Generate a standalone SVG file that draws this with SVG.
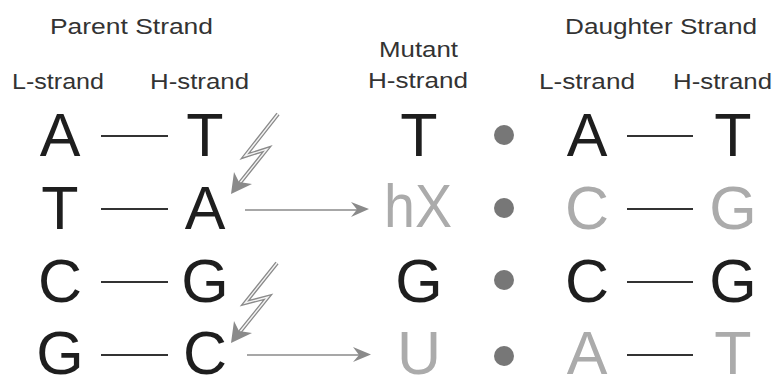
<svg xmlns="http://www.w3.org/2000/svg" width="777" height="380" viewBox="0 0 777 380">
<style>
.hdr{font-family:"Liberation Sans",Arial,sans-serif;font-size:22px;fill:#333}
.big{font-family:"Liberation Sans",Arial,sans-serif;font-size:61px;text-anchor:middle}
.d{fill:#1e1e1e}
.l{fill:#ababab}
.bond{stroke:#333;stroke-width:2}
.dot{fill:#777}
.arr{stroke:#8a8a8a;stroke-width:1.6;fill:none}
.ah{fill:#8a8a8a}
.bo{stroke:#8a8a8a;stroke-width:4;fill:none;stroke-linejoin:miter}
.bi{stroke:#f4f4f4;stroke-width:1.4;fill:none;stroke-linejoin:miter}
</style>
<rect width="777" height="380" fill="#fff"/>
<g id="headers">
<text class="hdr" x="50" y="34" textLength="163" lengthAdjust="spacingAndGlyphs">Parent Strand</text>
<text class="hdr" x="12" y="89" textLength="92" lengthAdjust="spacingAndGlyphs">L-strand</text>
<text class="hdr" x="150" y="89" textLength="99" lengthAdjust="spacingAndGlyphs">H-strand</text>
<text class="hdr" x="379" y="57" textLength="79" lengthAdjust="spacingAndGlyphs">Mutant</text>
<text class="hdr" x="368" y="88" textLength="100" lengthAdjust="spacingAndGlyphs">H-strand</text>
<text class="hdr" x="565" y="34" textLength="192" lengthAdjust="spacingAndGlyphs">Daughter Strand</text>
<text class="hdr" x="539" y="89" textLength="96" lengthAdjust="spacingAndGlyphs">L-strand</text>
<text class="hdr" x="673" y="89" textLength="99" lengthAdjust="spacingAndGlyphs">H-strand</text>
</g>
<g id="parent-L">
<text class="big d" x="60" y="156">A</text>
<text class="big d" x="60" y="229">T</text>
<text class="big d" x="60" y="302">C</text>
<text class="big d" x="60" y="374">G</text>
</g>
<g id="parent-H">
<text class="big d" x="205" y="156">T</text>
<text class="big d" x="205" y="229">A</text>
<text class="big d" x="205" y="302">G</text>
<text class="big d" x="205" y="374">C</text>
</g>
<g id="mutant-H">
<text class="big d" x="419" y="156">T</text>
<text class="big l" x="418" y="227" textLength="68" lengthAdjust="spacingAndGlyphs">hX</text>
<text class="big d" x="419" y="302">G</text>
<text class="big l" x="419" y="374">U</text>
</g>
<g id="daughter-L">
<text class="big d" x="587" y="156">A</text>
<text class="big l" x="587" y="229">C</text>
<text class="big d" x="587" y="302">C</text>
<text class="big l" x="587" y="374">A</text>
</g>
<g id="daughter-H">
<text class="big d" x="733" y="156">T</text>
<text class="big l" x="733" y="229">G</text>
<text class="big d" x="733" y="302">G</text>
<text class="big l" x="733" y="374">T</text>
</g>
<g id="connectors">
<line class="bond" x1="101" y1="136" x2="168" y2="136"/>
<line class="bond" x1="101" y1="209" x2="168" y2="209"/>
<line class="bond" x1="101" y1="282" x2="168" y2="282"/>
<line class="bond" x1="101" y1="355" x2="168" y2="355"/>
<line class="bond" x1="627" y1="136" x2="693" y2="136"/>
<line class="bond" x1="627" y1="209" x2="693" y2="209"/>
<line class="bond" x1="627" y1="282" x2="693" y2="282"/>
<line class="bond" x1="627" y1="355" x2="693" y2="355"/>
<circle class="dot" cx="504" cy="135" r="10"/>
<circle class="dot" cx="504" cy="208" r="10"/>
<circle class="dot" cx="504" cy="280" r="10"/>
<circle class="dot" cx="504" cy="356" r="10"/>
<line class="arr" x1="245" y1="210" x2="362" y2="210"/>
<path class="ah" d="M369,209 L351,202 L357,209.5 L351,217 Z"/>
<line class="arr" x1="247" y1="355" x2="364" y2="355"/>
<path class="ah" d="M371,354.5 L353,347 L359,355 L353,362 Z"/>
<g id="bolt1">
<polyline class="bo" points="278,114 245,156 267,149 239,184"/>
<polyline class="bi" points="278,114 245,156 267,149 239,184"/>
<path class="ah" d="M231,194 L234,172 L239,182 L252,184 Z"/>
</g>
<g id="bolt2">
<polyline class="bo" points="277,263 245,303 268,297 239,333"/>
<polyline class="bi" points="277,263 245,303 268,297 239,333"/>
<path class="ah" d="M231,343 L234,321 L239,331 L252,333 Z"/>
</g>
</g>
</svg>
